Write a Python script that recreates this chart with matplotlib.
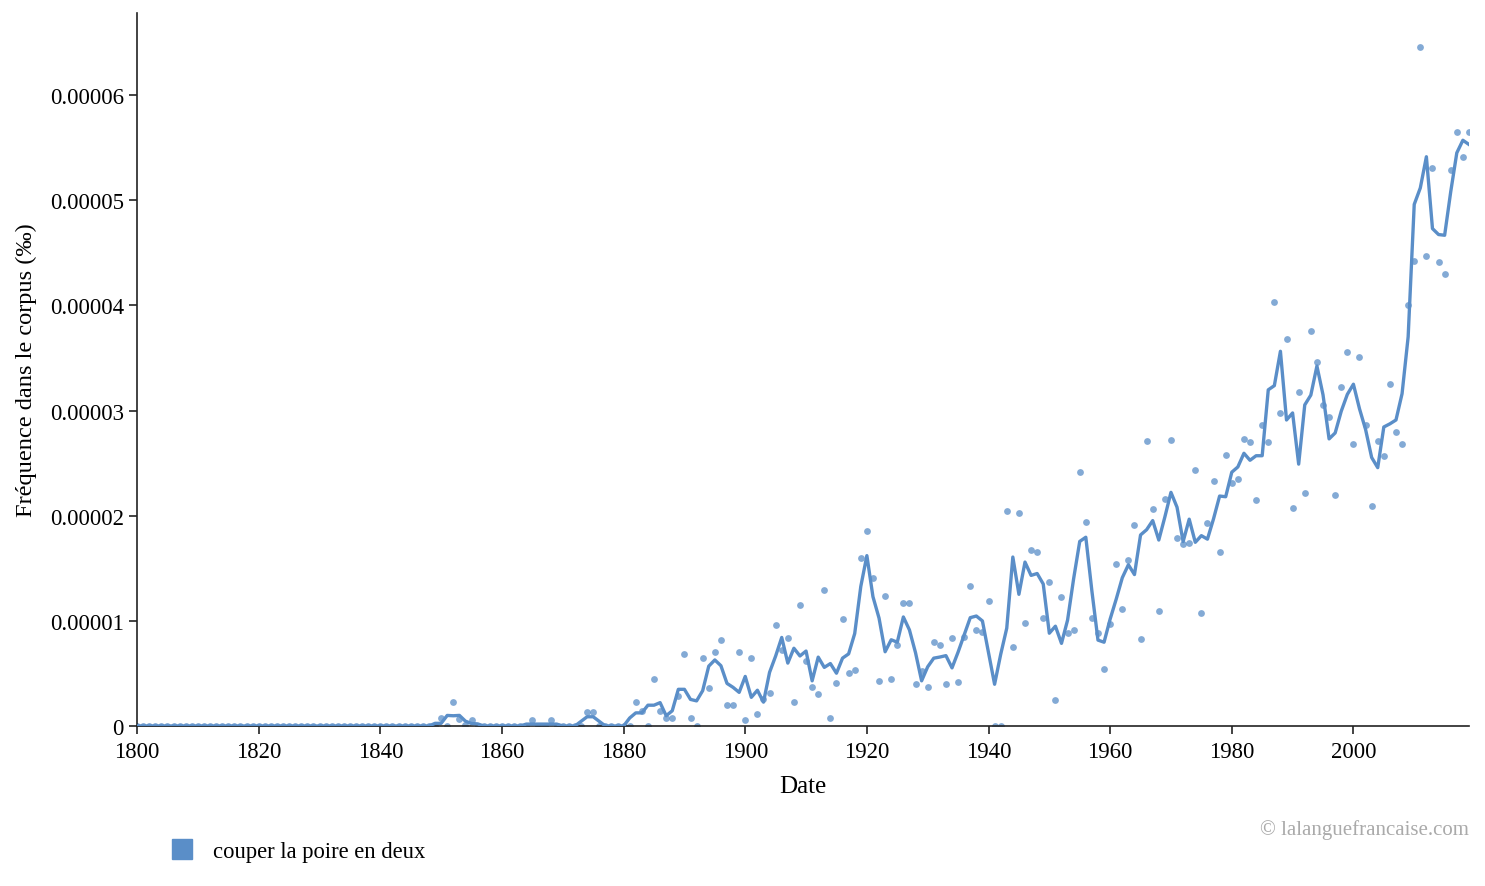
import matplotlib
matplotlib.use("Agg")
import matplotlib.pyplot as plt
import numpy as np
import pandas as pd
from matplotlib.lines import Line2D
from matplotlib.ticker import FuncFormatter, MultipleLocator

plt.rcParams["font.family"] = ["Liberation Serif", "DejaVu Serif"]

# yearly frequency, in units of 1e-6
years = np.arange(1800, 2020)
freq_1800_1849 = [0.0] * 50  # flat zero before 1850
freq_1850_2019 = [
    0.76, 0.0, 2.25, 0.67, 0.1, 0.6, 0.0, 0.0, 0.0, 0.0,          # 1850
    0.0, 0.0, 0.0, 0.0, 0.0, 0.54, 0.0, 0.0, 0.54, 0.0,           # 1860
    0.0, 0.0, 0.0, 0.0, 1.33, 1.3, 0.0, 0.0, 0.0, 0.0,            # 1870
    0.0, 0.0, 2.28, 1.46, 0.0, 4.47, 1.46, 0.73, 0.73, 2.88,      # 1880
    6.85, 0.73, 0.0, 6.43, 3.64, 7.0, 8.2, 2.0, 1.95, 7.07,       # 1890
    0.57, 6.5, 1.1, 2.6, 3.1, 9.6, 7.26, 8.4, 2.28, 11.5,         # 1900
    6.2, 3.68, 3.0, 12.96, 0.76, 4.09, 10.2, 5.07, 5.3, 16.0,     # 1910
    18.5, 14.1, 4.28, 12.4, 4.5, 7.7, 11.7, 11.7, 4.0, 5.2,       # 1920
    3.68, 8.0, 7.67, 4.0, 8.4, 4.18, 8.5, 13.3, 9.1, 8.97,        # 1930
    11.9, 0.0, 0.0, 20.4, 7.5, 20.3, 9.76, 16.7, 16.5, 10.3,      # 1940
    13.7, 2.47, 12.3, 8.8, 9.1, 24.15, 19.4, 10.3, 8.8, 5.4,      # 1950
    9.7, 15.4, 11.1, 15.8, 19.1, 8.3, 27.1, 20.6, 10.9, 21.55,    # 1960
    27.2, 17.9, 17.3, 17.4, 24.3, 10.7, 19.3, 23.3, 16.5, 25.8,   # 1970
    23.1, 23.5, 27.3, 27.0, 21.5, 28.6, 27.0, 40.3, 29.8, 36.8,   # 1980
    20.7, 31.8, 22.2, 37.6, 34.6, 30.5, 29.4, 22.0, 32.2, 35.6,   # 1990
    26.8, 35.1, 28.6, 20.9, 27.1, 25.7, 32.5, 28.0, 26.8, 40.0,   # 2000
    44.2, 64.6, 44.7, 53.1, 44.1, 43.0, 52.9, 56.5, 54.1, 56.5,   # 2010
]
series_name = "couper la poire en deux"

freq = pd.Series(np.array(freq_1800_1849 + freq_1850_2019) * 1e-6, index=years)
# the line is a centred 3-year moving average of the yearly points
smooth = freq.rolling(3, center=True, min_periods=1).mean()

color = "#5a8ec8"

fig = plt.figure(figsize=(14.85, 8.87), dpi=100)
ax = fig.add_axes([0.0923, 0.1804, 0.8969, 0.8038])

ax.scatter(years, freq.values, s=24, color=color, alpha=0.75, linewidths=0, zorder=2)
ax.plot(years, smooth.values, color=color, lw=2.4, zorder=3)

ax.set_xlim(1800, 2019)
ax.set_ylim(0, 6.78e-5)
ax.xaxis.set_major_locator(MultipleLocator(20))
ax.yaxis.set_major_locator(MultipleLocator(1e-5))
ax.yaxis.set_major_formatter(FuncFormatter(lambda v, _: "0" if abs(v) < 1e-12 else f"{v:.5f}"))

for side in ("top", "right"):
    ax.spines[side].set_visible(False)
for side in ("left", "bottom"):
    ax.spines[side].set_color("#222222")
    ax.spines[side].set_linewidth(1.2)
ax.tick_params(axis="both", labelsize=16.4, length=6, width=1.2, color="#222222")
ax.tick_params(axis="x", pad=5)

ax.set_xlabel("Date", fontsize=18, labelpad=9)
ax.set_ylabel("Fréquence dans le corpus (‰)", fontsize=17.6, labelpad=9)

proxy = Line2D([], [], marker="s", linestyle="none", markersize=14,
               markerfacecolor=color, markeredgecolor=color)
fig.legend(handles=[proxy], labels=[series_name], loc="center left",
           bbox_to_anchor=(0.101, 0.039), frameon=False, fontsize=16.3,
           handlelength=1.0, handletextpad=0.9)

fig.text(0.9892, 0.064, "© lalanguefrancaise.com", ha="right", va="center",
         fontsize=15, color="#aaaaaa")

fig.savefig("out.png", dpi=100)
